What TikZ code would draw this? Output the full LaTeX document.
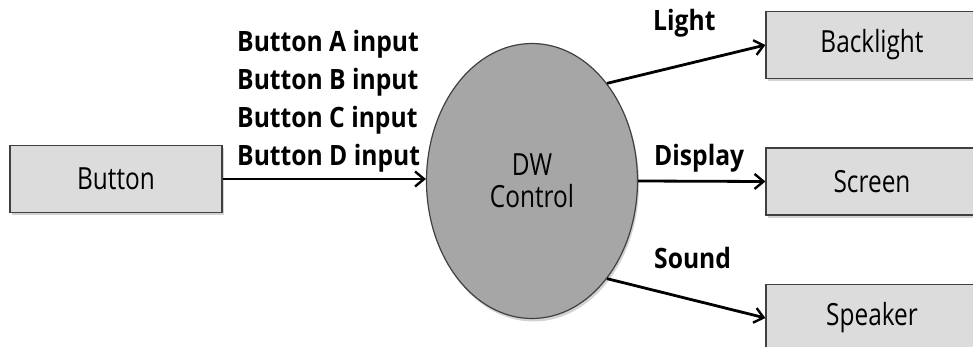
\documentclass[tikz,border=0pt]{standalone}
\usepackage{fontspec}
\setmainfont{Open Sans}[FakeStretch=0.8]
\newfontfamily\lblfont{Open Sans}[FakeStretch=0.88]
\usetikzlibrary{shapes.geometric,shadows,arrows.meta}
\definecolor{boxgray}{HTML}{DCDCDC}
\definecolor{ctrlgray}{HTML}{A6A6A6}
\definecolor{edgegray}{HTML}{404040}

\begin{document}
\begin{tikzpicture}[x=1pt, y=-1pt,
	block/.style = {draw=edgegray, line width=1.2pt, fill=boxgray, minimum width=212pt, minimum height=67pt, inner sep=0pt, font=\fontsize{30.5}{34}\selectfont, drop shadow={shadow xshift=1.5pt, shadow yshift=-3pt, opacity=.35}},
	flow/.style = {line width=2.8pt, -{Straight Barb[length=9pt, width=15pt, line width=2.4pt]}},
	lbl/.style = {anchor=base west, inner sep=0pt, font=\lblfont\fontsize{28}{30}\selectfont\bfseries}]
	
	\clip (0,0) rectangle (973,347);
	\def \col {872} % centre of the output boxes
	
	\node[block] (btn) at (116,179) {Button};
	\node[ellipse, draw=edgegray, line width=1.2pt, fill=ctrlgray, minimum width=211pt, minimum height=275pt, inner sep=0pt, align=center, font=\fontsize{30.5}{32}\selectfont, drop shadow={shadow xshift=1.5pt, shadow yshift=-3pt, opacity=.35}] (ctrl) at (532,181) {DW\\Control};
	
	\node[block] (backlight) at (\col,45) {Backlight};
	\node[block] (screen) at (\col,181.5) {Screen};
	\node[block] (speaker) at (\col,318) {Speaker};
	
	\foreach \s [count=\i] in {A,B,C,D}
	{
		\node[lbl] (in\s) at (237, {14+38*\i}) {Button \s\ input};
	}
	\node[lbl] (light) at (653,31) {Light};
	\node[lbl] (display) at (654,166) {Display};
	\node[lbl] (sound) at (654,268) {Sound};
	
	\draw[flow] (btn.east) -- (btn.east -| ctrl.west);
	\draw[flow] (ctrl.north east) -- (backlight.west);
	\draw[flow] (ctrl.east) -- (screen.west);
	\draw[flow] (ctrl.south east) -- (speaker.west);
\end{tikzpicture}
\end{document}
